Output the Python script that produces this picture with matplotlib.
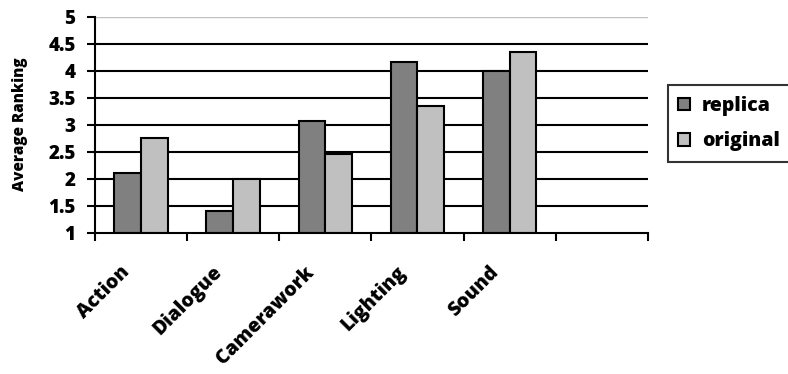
import matplotlib
matplotlib.use("Agg")
import matplotlib.pyplot as plt
import numpy as np

categories = ["Action", "Dialogue", "Camerawork", "Lighting", "Sound", ""]
replica = [2.1, 1.4, 3.07, 4.17, 4.0]
original = [2.75, 2.0, 2.45, 3.35, 4.35]
series_names = ["replica", "original"]
y_ticks = [1, 1.5, 2, 2.5, 3, 3.5, 4, 4.5, 5]
y_tick_labels = ["1", "1.5", "2", "2.5", "3", "3.5", "4", "4.5", "5"]

WEIGHT = "extra bold"
plt.rcParams["font.family"] = ["Open Sans", "DejaVu Sans"]
plt.rcParams["font.weight"] = WEIGHT

fig = plt.figure(figsize=(7.88, 3.74), dpi=100)
ax = fig.add_axes([0.1206, 0.378, 0.822 - 0.1206, 0.955 - 0.378])

n_cat = len(categories)
bw = 0.29
x = np.arange(len(replica)) + 0.5
ax.bar(x - bw / 2, [v - 1 for v in replica], bw, bottom=1, color="#808080",
       edgecolor="black", linewidth=1.5, label=series_names[0], zorder=3)
ax.bar(x + bw / 2, [v - 1 for v in original], bw, bottom=1, color="#c0c0c0",
       edgecolor="black", linewidth=1.5, label=series_names[1], zorder=3)

ax.set_xlim(0, n_cat)
ax.set_ylim(1, 5)
ax.set_xticks(np.arange(n_cat + 1))
ax.set_xticklabels([])
ax.tick_params(axis="x", direction="out", length=6, width=1.5)
ax.tick_params(axis="y", direction="out", length=6, width=1.5, pad=8)
ax.set_yticks(y_ticks)
ax.set_yticklabels(y_tick_labels)
for lbl in ax.get_yticklabels():
    lbl.set_fontsize(13.5)
    lbl.set_fontweight(WEIGHT)

for yv in y_ticks[1:]:
    color = "#c0c0c0" if yv == 5 else "black"
    lw = 1.0 if yv == 5 else 1.5
    ax.axhline(yv, color=color, linewidth=lw, zorder=1)

for s in ["top", "right"]:
    ax.spines[s].set_visible(False)
for s in ["left", "bottom"]:
    ax.spines[s].set_linewidth(1.5)
    ax.spines[s].set_zorder(4)

for i, name in enumerate(categories):
    if name:
        ax.text(i + 0.5 - 0.23, 0.45, name, rotation=45, ha="right", va="top",
                rotation_mode="anchor", fontsize=14, fontweight=WEIGHT,
                transform=ax.transData, clip_on=False)

ax.set_ylabel("Average Ranking", fontsize=11, fontweight=WEIGHT)
ax.yaxis.set_label_coords(-0.121, 0.503)

leg = ax.legend(loc="center left", bbox_to_anchor=(1.036, 0.505), frameon=True,
                fancybox=False, edgecolor="black",
                prop={"weight": WEIGHT, "size": 14}, handlelength=0.62,
                handleheight=0.62, handletextpad=0.6, borderpad=0.55,
                labelspacing=0.8, borderaxespad=0)
leg.get_frame().set_linewidth(1.5)
for h in leg.legend_handles:
    h.set_linewidth(1.5)

fig.savefig("out.png", dpi=100)
